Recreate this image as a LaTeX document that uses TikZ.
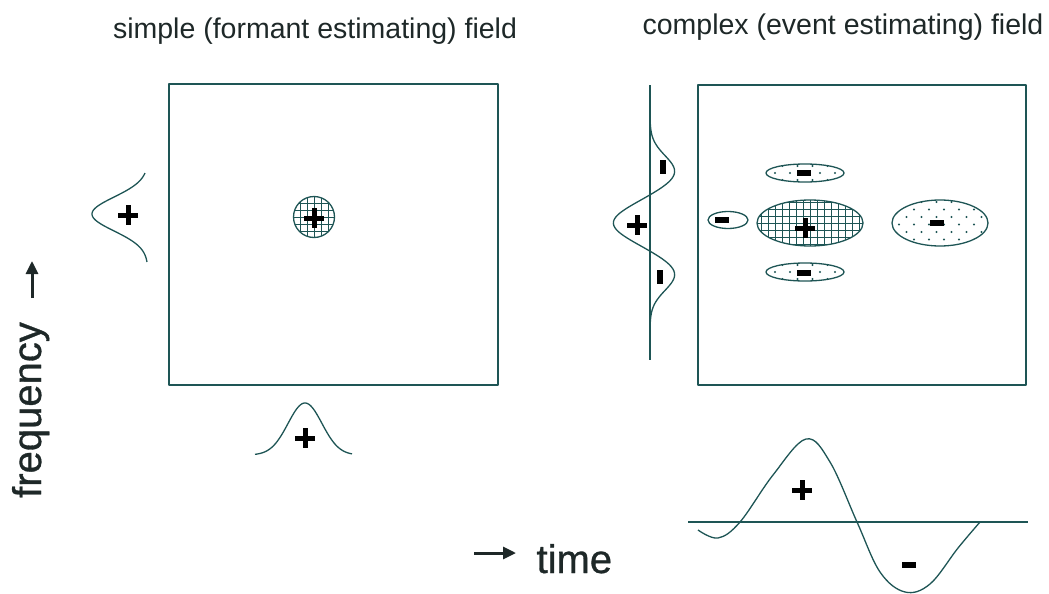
\documentclass[tikz,border=0pt]{standalone}
\usepackage{fontspec}
\setmainfont{Liberation Sans}
\newfontfamily\heavyfont[FakeBold=0.8]{Liberation Sans}
\usetikzlibrary{arrows.meta}
\definecolor{ink}{RGB}{30,85,85}
\definecolor{txt}{RGB}{30,40,40}
\tikzset{
  frame/.style={draw=ink, line width=1.8pt},
  curve/.style={draw=ink, line width=1.3pt},
  oval/.style={draw=ink, line width=1.3pt},
  hatch/.style={draw=ink, line width=0.9pt},
  dot/.style={fill=ink},
  axlabel/.style={text=txt, font=\heavyfont\fontsize{40}{48}\selectfont},
  ttl/.style={text=txt, font=\fontsize{28.5}{34}\selectfont, anchor=base},
  axarrow/.style={draw=txt, line width=3pt, -{Triangle[length=13pt,width=12pt,fill=txt]}},
  plussign/.pic={\draw[line width=5pt, black] (-10,0) -- (10,0) (0,-10) -- (0,10);},
  minussign/.pic={\fill[black] (-7,-2.6) rectangle (7,2.6);},
  vminussign/.pic={\fill[black] (-2.6,-7) rectangle (2.6,7);}
}
\begin{document}
\begin{tikzpicture}[x=1pt,y=-1pt,line join=round]
\useasboundingbox (0,0) rectangle (1049,594);

% titles
\node[ttl] (t1) at (315,38) {simple (formant estimating) field};
\node[ttl] (t2) at (843,35) {complex (event estimating) field};

% left field
\draw[frame] (169,84) rectangle (498,385);
\begin{scope}
  \clip (314,217) circle (20.5);
  \foreach \i in {-21,-14,...,21} \draw[hatch] (314+\i,195) -- (314+\i,239);
  \foreach \j in {-21,-14,...,21} \draw[hatch] (292,217+\j) -- (336,217+\j);
\end{scope}
\draw[oval] (314,217) circle (20.5);
\pic at (314,218) {plussign};

% left vertical gaussian
\draw[curve] plot[domain=173:262, samples=80, smooth]
  ({148-56*exp(-((\x-214)/24)*((\x-214)/24))},\x);
\pic at (128,215) {plussign};

% bottom gaussian
\draw[curve] plot[domain=255:352, samples=80, smooth]
  (\x,{455-52*exp(-((\x-305)/24)*((\x-305)/24))});
\pic at (305,438) {plussign};

% right field
\draw[frame] (698,85) rectangle (1026,385);

% big central ellipse (grid)
\begin{scope}
  \clip (810,223) ellipse [x radius=53, y radius=23];
  \foreach \i in {-56,-49,...,56} \draw[hatch] (810+\i,198) -- (810+\i,248);
  \foreach \j in {-28,-21,...,28} \draw[hatch] (755,223+\j) -- (865,223+\j);
\end{scope}
\draw[oval] (810,223) ellipse [x radius=53, y radius=23];
\pic at (805,228) {plussign};

% right dotted ellipse
\begin{scope}
  \clip (940,223) ellipse [x radius=48, y radius=23];
  \foreach \j [count=\k] in {-21,-13.5,...,22}
    \foreach \i in {-56,-41,...,56}
      \fill[dot] ({940+\i+7.5*mod(\k,2)},{223+\j}) circle (1.1);
\end{scope}
\draw[oval] (940,223) ellipse [x radius=48, y radius=23];
\pic at (937,223) {minussign};

% top and bottom dotted ellipses
\foreach \cy/\my in {173/173,272/273}{
  \begin{scope}
    \clip (805,\cy) ellipse [x radius=39, y radius=9];
    \foreach \j [count=\k] in {-7,0,7}
      \foreach \i in {-45,-30,...,45}
        \fill[dot] ({805+\i+7.5*mod(\k,2)},{\cy+\j}) circle (1.1);
  \end{scope}
  \draw[oval] (805,\cy) ellipse [x radius=39, y radius=9];
  \pic at (804,\my) {minussign};
}

% small left ellipse
\draw[oval] (728,220) ellipse [x radius=20, y radius=8.5];
\pic at (722,220) {minussign};

% right vertical profile
\draw[curve] (650,85) -- (650,360);
\draw[curve] plot[domain=100:345, samples=120, smooth]
  ({650-37*exp(-((\x-223)/24)*((\x-223)/24))
       +25*exp(-((\x-172)/23)*((\x-172)/23))
       +25*exp(-((\x-274)/23)*((\x-274)/23))},\x);
\pic at (637,225) {plussign};
\pic at (663,167) {vminussign};
\pic at (660,277) {vminussign};

% bottom time profile
\draw[curve] (688,522) -- (1028,522);
\draw[curve] plot[smooth, tension=0.6] coordinates {
  (698,530) (718,538) (740,522) (773,475) (806,439) (830,462)
  (857,522) (880,572) (905,592) (930,584) (958,548) (980,522)};
\pic at (802,490) {plussign};
\pic at (909,565) {minussign};

% axis labels
\node[axlabel, rotate=90, anchor=base] (freq) at (41,410) {frequency};
\coordinate (fa) at (32,298);
\coordinate (fb) at (32,261);
\draw[axarrow] (fa) -- (fb);

\node[axlabel, anchor=base west] (time) at (533,573) {time};
\coordinate (ta) at (474,553);
\coordinate (tb) at (516,553);
\draw[axarrow] (ta) -- (tb);
\end{tikzpicture}
\end{document}
